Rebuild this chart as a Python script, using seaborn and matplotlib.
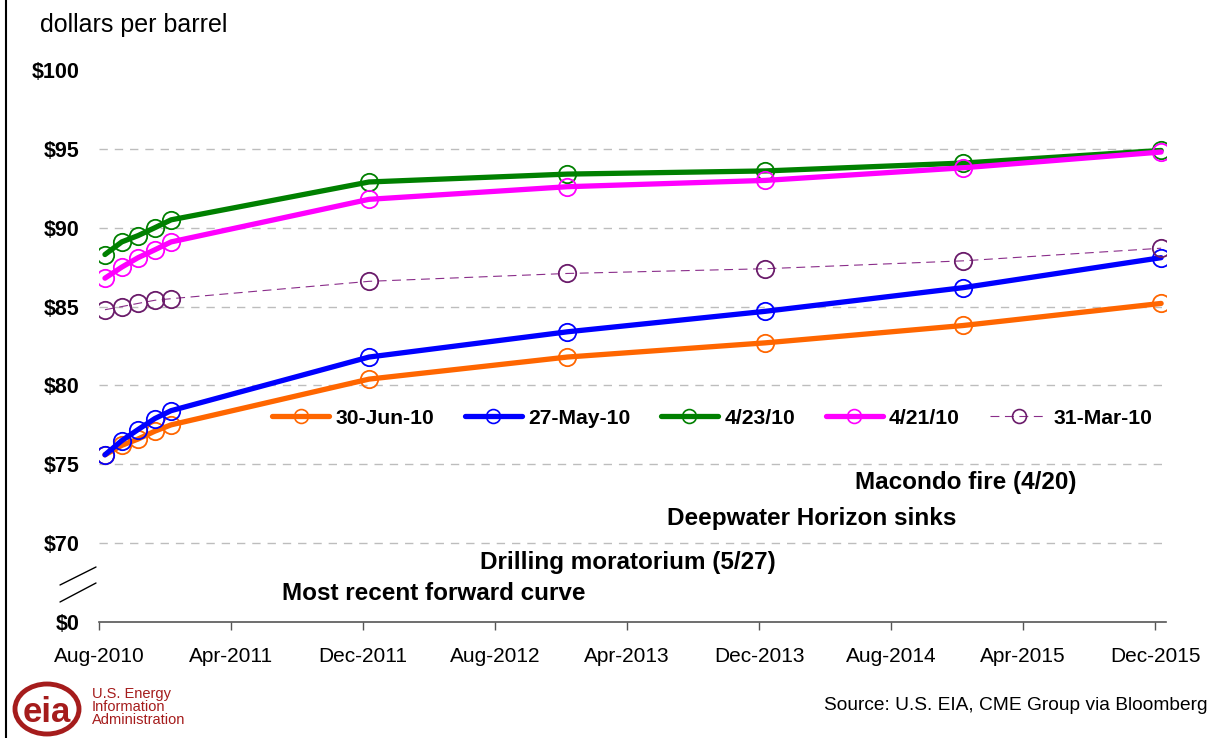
import matplotlib
matplotlib.use("Agg")
import matplotlib.pyplot as plt
import matplotlib.dates as mdates
from matplotlib.lines import Line2D
from matplotlib.patches import Ellipse
import seaborn as sns
import pandas as pd

# ---------------- data ----------------
contract_dates = ["2010-08-12", "2010-09-12", "2010-10-12", "2010-11-12", "2010-12-12",
                  "2011-12-12", "2012-12-12", "2013-12-12", "2014-12-12", "2015-12-12"]
jun30 = [75.6, 76.2, 76.6, 77.1, 77.5, 80.4, 81.8, 82.7, 83.8, 85.2]
may27 = [75.6, 76.5, 77.2, 77.9, 78.4, 81.8, 83.4, 84.7, 86.2, 88.1]
apr23 = [88.3, 89.1, 89.5, 90.0, 90.5, 92.9, 93.4, 93.6, 94.1, 94.9]
apr21 = [86.8, 87.5, 88.1, 88.6, 89.1, 91.8, 92.6, 93.0, 93.8, 94.8]
mar31 = [84.8, 85.0, 85.2, 85.4, 85.5, 86.6, 87.1, 87.4, 87.9, 88.7]
series_names = ["30-Jun-10", "27-May-10", "4/23/10", "4/21/10", "31-Mar-10"]
series_values = [jun30, may27, apr23, apr21, mar31]
y_tick_values = [0, 70, 75, 80, 85, 90, 95, 100]
x_tick_dates = ["2010-08-01", "2011-04-01", "2011-12-01", "2012-08-01", "2013-04-01",
                "2013-12-01", "2014-08-01", "2015-04-01", "2015-12-01"]
annotations = ["Macondo fire (4/20)", "Deepwater Horizon sinks",
               "Drilling moratorium (5/27)", "Most recent forward curve"]

# ---------------- style ----------------
sns.set_style("white")
plt.rcParams["font.family"] = ["Liberation Sans", "DejaVu Sans"]
plt.rcParams["text.color"] = "black"
plt.rcParams["xtick.color"] = "black"
plt.rcParams["ytick.color"] = "black"
plt.rcParams["xtick.labelcolor"] = "black"
plt.rcParams["ytick.labelcolor"] = "black"

colors = ["#ff6600", "#0000ff", "#008000", "#ff00ff", "#6a1b6a"]
line_colors = ["#ff6600", "#0000ff", "#008000", "#ff00ff", "#8a2d8a"]
line_widths = [3.8, 3.8, 3.8, 3.8, 0.8]
line_styles = ["-", "-", "-", "-", (0, (8, 5))]

W, H = 1220, 738
fig = plt.figure(figsize=(W / 100, H / 100), dpi=100)
ax_left, ax_right, ax_top, ax_bottom = 99, 1166, 70, 622
ax = fig.add_axes([ax_left / W, 1 - ax_bottom / H, (ax_right - ax_left) / W, (ax_bottom - ax_top) / H])

dates = pd.to_datetime(contract_dates)
BREAK_POS = 65  # axis position where the broken axis shows $0


def ypos(v):
    return v if v >= 70 else BREAK_POS


for name, vals, c, lc, lw, ls in zip(series_names, series_values, colors, line_colors, line_widths, line_styles):
    df = pd.DataFrame({"date": dates, "price": vals})
    sns.lineplot(data=df, x="date", y="price", ax=ax, color=lc, lw=lw, linestyle=ls,
                 marker="o", markersize=12.5, markerfacecolor="none", markeredgecolor=c,
                 markeredgewidth=1.3, label=name, legend=False, zorder=3)

# gridlines
for v in y_tick_values:
    if 70 <= v < 100:
        ax.axhline(v, color="#bdbdbd", lw=1.0, linestyle=(0, (6, 5)), zorder=1)

ax.set_ylim(BREAK_POS, 100)
ax.set_yticks([ypos(v) for v in y_tick_values])
ax.set_yticklabels([f"${v}" for v in y_tick_values], fontsize=15.5, fontweight="bold")
ax.tick_params(axis="y", length=0, pad=14)

ax.set_xlim(pd.Timestamp("2010-08-01"), pd.Timestamp("2015-12-21"))
ax.set_xticks(pd.to_datetime(x_tick_dates))
ax.xaxis.set_major_formatter(mdates.DateFormatter("%b-%Y"))
ax.tick_params(axis="x", length=6, width=1, color="#555555", labelsize=15, pad=12, direction="out",
               bottom=True)
ax.set_xlabel("")
ax.set_ylabel("")
for s in ["left", "top", "right"]:
    ax.spines[s].set_visible(False)
ax.spines["bottom"].set_color("#555555")
ax.spines["bottom"].set_linewidth(1.2)

# legend
handles = [Line2D([], [], color=lc, lw=lw, linestyle=ls, marker="o", markersize=10,
                  markerfacecolor="none", markeredgecolor=c, markeredgewidth=1.2)
           for c, lc, lw, ls in zip(colors, line_colors, line_widths, line_styles)]
leg = ax.legend(handles, series_names, ncol=5, frameon=False, loc="center left",
                bbox_to_anchor=((272 - ax_left) / (ax_right - ax_left), (ax_bottom - 418) / (ax_bottom - ax_top)),
                prop={"weight": "bold", "size": 15.2}, handlelength=2.7, handletextpad=0.3,
                columnspacing=1.45, borderaxespad=0, borderpad=0)

# annotations (centres in pixel coords)
ann_pos = [(966, 483), (812, 519), (628, 562), (434, 594)]
for txt, (px, py) in zip(annotations, ann_pos):
    fig.text(px / W, 1 - py / H, txt, ha="center", va="center", fontsize=17.5, fontweight="bold")

# y label
fig.text(40 / W, 1 - 25 / H, "dollars per barrel", ha="left", va="center", fontsize=18)

# axis break marks
for (x0, y0, x1, y1) in [(60, 585, 96, 567), (60, 602, 96, 583)]:
    fig.add_artist(Line2D([x0 / W, x1 / W], [1 - y0 / H, 1 - y1 / H], color="black", lw=1.0,
                          transform=fig.transFigure))

# left border
fig.add_artist(Line2D([6 / W, 6 / W], [0, 1], color="black", lw=1.5, transform=fig.transFigure))

# source
fig.text(1208 / W, 1 - 705 / H, "Source: U.S. EIA, CME Group via Bloomberg", ha="right", va="center",
         fontsize=13.8)

# EIA logo
logo_red = "#a51c1c"
fig.add_artist(Ellipse((47 / W, 1 - 709 / H), 64 / W, 50 / H, transform=fig.transFigure,
                       fill=False, edgecolor=logo_red, lw=3.5))
fig.text(47 / W, 1 - 712 / H, "eia", ha="center", va="center", fontsize=25, fontweight="bold",
         color=logo_red)
fig.text(92 / W, 1 - 707 / H, "U.S. Energy\nInformation\nAdministration", ha="left", va="center",
         fontsize=10.5, color=logo_red, linespacing=0.95)

fig.savefig("out.png", dpi=100)
